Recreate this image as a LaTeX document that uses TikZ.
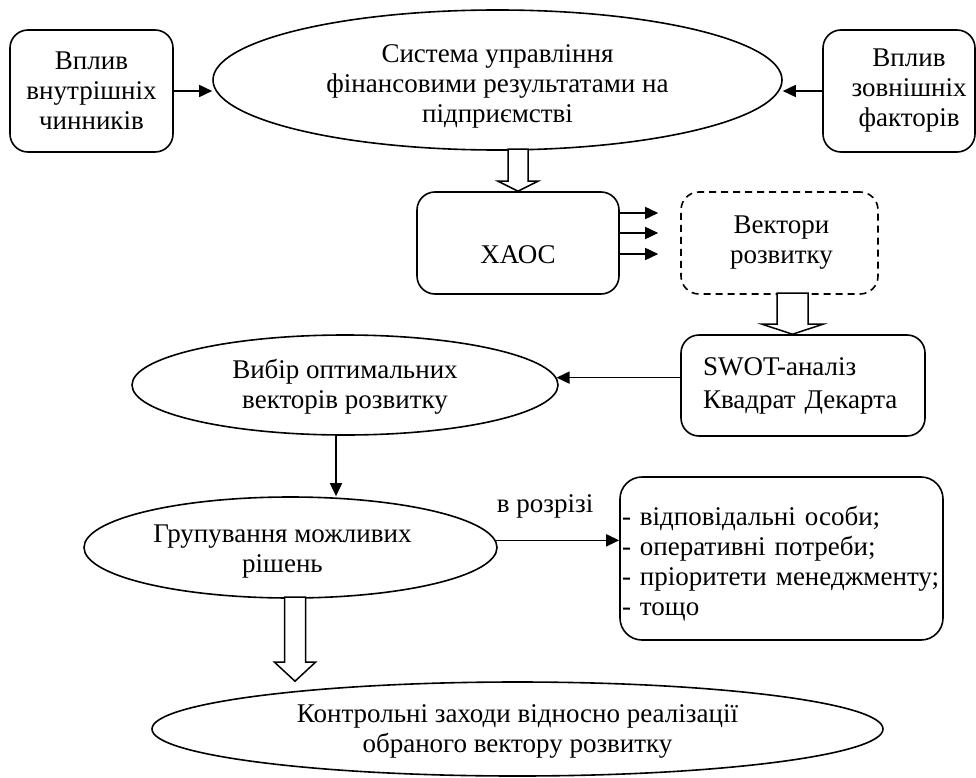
\documentclass[tikz,border=0pt]{standalone}
\usepackage{fontspec}
\setmainfont{Liberation Serif}
\usetikzlibrary{shapes.geometric,arrows.meta}
\begin{document}
\begin{tikzpicture}[x=1pt,y=-1pt,
  every node/.style={font=\fontsize{27}{30}\selectfont, inner sep=0pt},
  line width=1.6pt,
  rbox/.style={draw, rounded corners=18pt, align=center},
  dashbox/.style={dash pattern=on 7pt off 5pt},
  ell/.style={draw, ellipse, align=center},
  arr/.style={-{Triangle[length=13pt,width=12pt]}},
  pics/hollowarrow/.style n args={4}{code={
    \draw[line width=1.5pt, fill=white] (0,0) -- (-#1,-#3) -- (-#2,-#3) -- (-#2,-#4)
      -- (#2,-#4) -- (#2,-#3) -- (#1,-#3) -- cycle;}}
]
\useasboundingbox (0,0) rectangle (976,778);

% nodes
\node[rbox, minimum width=163pt, minimum height=122pt] (inner) at (91.5,91) {Вплив\\внутрішніх\\чинників};
\node[ell, minimum width=569pt, minimum height=140pt,
      label={[align=center, yshift=-6pt]center:Система управління\\фінансовими результатами на\\підприємстві}] (sys) at (497.5,80) {};
\node[rbox, minimum width=152pt, minimum height=122pt,
      label={[align=center, xshift=10pt]center:Вплив\\зовнішніх\\факторів}] (outer) at (899,91) {};
\node[rbox, minimum width=202pt, minimum height=102pt,
      label={[yshift=-12pt]center:ХАОС}] (chaos) at (518,243) {};
\node[rbox, dashbox, minimum width=197pt, minimum height=102pt,
      label={[align=center, xshift=2pt]center:Вектори\\розвитку}] (vec) at (779.5,243) {};
\node[rbox, minimum width=244pt, minimum height=101pt, align=left, text width=200pt] (swot) at (803,385.5) {SWOT-аналіз\\[3pt]Квадрат Декарта};
\node[ell, minimum width=426pt, minimum height=100pt,
      label={[align=center, yshift=-2pt]center:Вибір оптимальних\\векторів розвитку}] (vib) at (345,385) {};
\node[ell, minimum width=413pt, minimum height=101pt,
      label={[align=center, xshift=-8pt, yshift=-4pt]center:Групування можливих\\рішень}] (grp) at (290.5,547.5) {};
\node[rbox, rounded corners=22pt, minimum width=323pt, minimum height=163pt,
      label={[align=left, text width=319pt, yshift=-5pt]center:- відповідальні особи;\\- оперативні потреби;\\- пріоритети менеджменту;\\- тощо}] (list) at (781.5,558.5) {};
\node[ell, minimum width=731pt, minimum height=94pt,
      label={[align=center, yshift=-2pt]center:Контрольні заходи відносно реалізації\\обраного вектору розвитку}] (bot) at (517.5,729) {};

% connectors
\draw[arr] (inner.east) -- (inner.east -| sys.west);
\draw[arr] (outer.west) -- (outer.west -| sys.east);
\draw[arr] ([yshift=30pt]chaos.east) -- ([yshift=30pt,xshift=-22pt]vec.west);
\draw[arr] ([yshift=10pt]chaos.east) -- ([yshift=10pt,xshift=-22pt]vec.west);
\draw[arr] ([yshift=-11pt]chaos.east) -- ([yshift=-11pt,xshift=-22pt]vec.west);
\draw[arr] (swot.west |- vib.2.46) -- (vib.2.46);
\draw[arr] ([xshift=-9pt]vib.south) -- ([xshift=-9pt]vib.south |- grp.north);
\draw[arr] (grp.2.7) -- (grp.2.7 -| list.west) node[pos=0.4, above=21pt] (cut) {в розрізі};

% hollow arrows
\pic at (chaos.north) {hollowarrow={20}{10}{10}{42}};
\pic at ([xshift=13pt]vec.south |- swot.north) {hollowarrow={30.5}{15.5}{10}{41}};
\pic at ([xshift=4.5pt]grp.south |- bot.north) {hollowarrow={20.5}{10.5}{19}{84}};
\end{tikzpicture}
\end{document}
